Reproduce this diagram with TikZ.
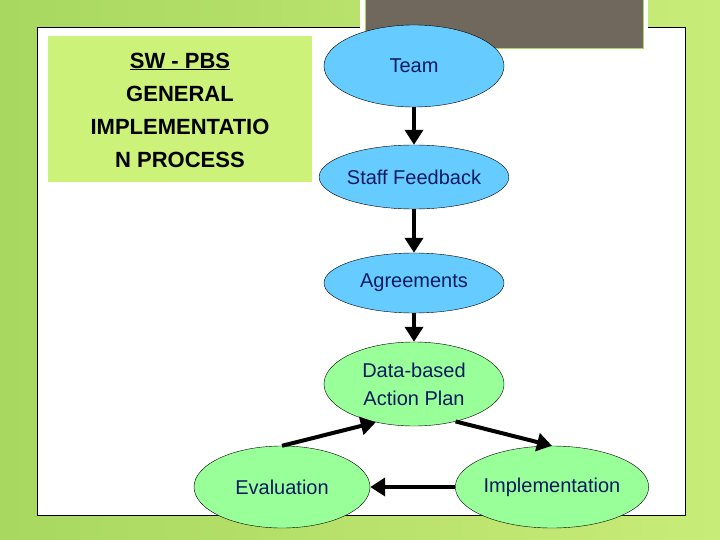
\documentclass[tikz,border=0pt]{standalone}
\usepackage{fontspec}
\setmainfont{Liberation Sans}
\usetikzlibrary{shapes.geometric,arrows.meta}
\definecolor{bgg}{HTML}{A8D860}
\definecolor{bgl}{HTML}{C8EC78}
\definecolor{tbox}{HTML}{CCF27A}
\definecolor{gbox}{HTML}{70685C}
\definecolor{blu}{HTML}{66CCFF}
\definecolor{grn}{HTML}{99FF99}
\definecolor{txt}{HTML}{0A1A60}
\begin{document}
\begin{tikzpicture}[x=1pt,y=-1pt,
  el/.style={ellipse,draw=black,thin,minimum width=180pt,text=txt,font=\fontsize{20}{28}\selectfont,align=center,inner sep=0pt},
  ar/.style={line width=4pt,-{Triangle[length=15pt,width=18pt]}}]
\useasboundingbox (0,0) rectangle (720,540);
\shade[left color=bgg,right color=bgl] (0,0) rectangle (720,540);
\fill[white] (37,27) rectangle (685,515);
\draw[black,thin] (37,27) rectangle (685,515);
\fill[white] (360,0) rectangle (648,54);
\fill[gbox,draw=bgg,line width=1pt] (365,-2) rectangle (643,49);
\node[fill=tbox,minimum width=264pt,minimum height=146pt,anchor=north west,inner sep=0pt] (title) at (48,36) {};
\node[align=center,font=\bfseries\fontsize{22}{33}\selectfont] (tt) at (180,110) {\underline{SW - PBS}\\GENERAL\\IMPLEMENTATIO\\N PROCESS};
\node[el,fill=blu,minimum height=82pt] (team) at (414,66) {Team};
\node[el,fill=blu,minimum height=64pt] (staff) at (414,177) {Staff Feedback};
\node[el,fill=blu,minimum height=60pt] (agr) at (414,283) {Agreements};
\node[el,fill=grn,minimum height=84pt] (data) at (414,384) {Data-based\\Action Plan};
\node[el,fill=grn,minimum height=82pt,minimum width=176pt] (eval) at (282,487) {Evaluation};
\node[el,fill=grn,minimum height=82pt,minimum width=172pt] (impl) at (552,487) {Implementation};
\draw[ar] (team) -- (staff);
\draw[ar] (staff) -- (agr);
\draw[ar] (agr) -- (data);
\draw[ar] (eval.north) -- (data.225);
\draw[ar] (data.-42) -- (impl.north);
\draw[ar] (impl.west) -- (eval.east);
\end{tikzpicture}
\end{document}
